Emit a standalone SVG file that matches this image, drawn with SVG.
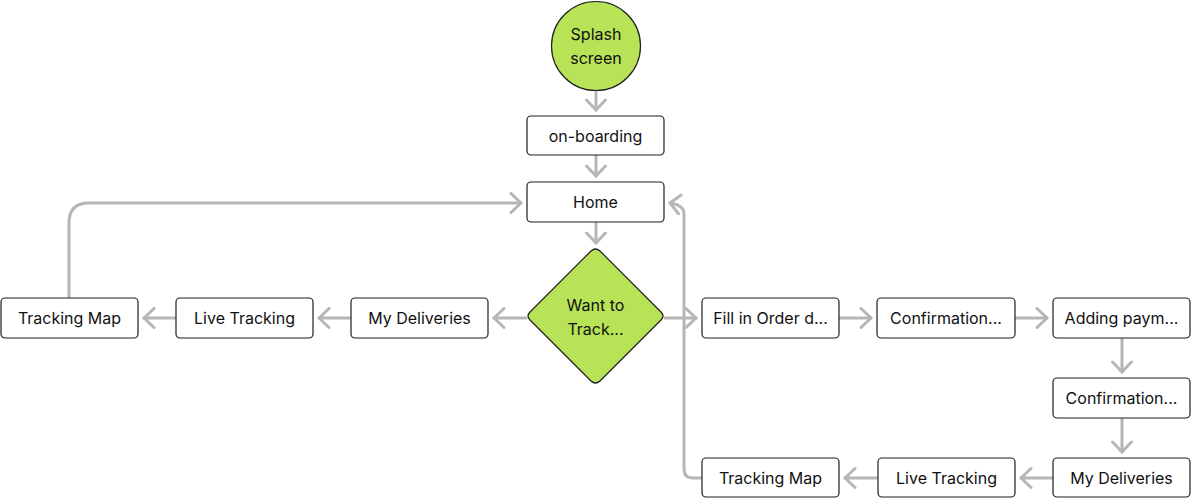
<svg xmlns="http://www.w3.org/2000/svg" width="1191" height="498" viewBox="0 0 1191 498">
<defs>
<style>
.n rect{fill:#fff;stroke:#1f1f1f;stroke-width:1.2}
.t{font-family:Inter,"Liberation Sans",sans-serif;font-size:16px;fill:#111;text-anchor:middle;dominant-baseline:central}
.c path{fill:none;stroke:#b6b6b6;stroke-width:3;stroke-linecap:round;stroke-linejoin:round;marker-end:url(#ah)}
.g{fill:#b8e356;stroke:#1f1f1f;stroke-width:1.2}
</style>
<marker id="ah" viewBox="0 0 14 22" refX="12" refY="11" markerWidth="14" markerHeight="22" markerUnits="userSpaceOnUse" orient="auto">
<path d="M2,1.5 L12,11 L2,20.5" fill="none" stroke="#b6b6b6" stroke-width="3" stroke-linecap="round" stroke-linejoin="round"/>
</marker>
</defs>
<rect width="1191" height="498" fill="#fff"/>
<g class="c" id="connectors">
<path d="M596,92 V110"/>
<path d="M596,156 V176"/>
<path d="M596,223 V243"/>
<path d="M526,318 H494"/>
<path d="M350,318 H319"/>
<path d="M175,318 H144"/>
<path d="M69,297 V223 Q69,203 89,203 H521"/>
<path d="M665,318 H696"/>
<path d="M840,318 H871"/>
<path d="M1016,318 H1047"/>
<path d="M1122,339 V372"/>
<path d="M1122,419 V452"/>
<path d="M1052,478 H1021"/>
<path d="M877,478 H845"/>
<path d="M701,478 H693 Q684,478 684,469 V214 Q684,205 670,203"/>
</g>
<g id="splash"><circle class="g" cx="596" cy="46" r="44.5"/><text class="t" x="596" y="34">Splash</text><text class="t" x="596" y="58">screen</text></g>
<g class="n" id="onboarding"><rect x="527" y="116" width="137" height="39" rx="4"/><text class="t" x="595.5" y="135.5">on-boarding</text></g>
<g class="n" id="home"><rect x="527" y="182" width="137" height="40" rx="4"/><text class="t" x="595.5" y="202">Home</text></g>
<g id="decision"><path class="g" d="M591,251 Q595.5,247 600,251 L661,312 Q665,316 661,320 L600,381 Q595.5,385 591,381 L530,320 Q526,316 530,312 Z"/><text class="t" x="595.5" y="305">Want to</text><text class="t" x="595.5" y="329">Track...</text></g>
<g class="n" id="mydel1"><rect x="351" y="298" width="137" height="40" rx="4"/><text class="t" x="419.5" y="318">My Deliveries</text></g>
<g class="n" id="live1"><rect x="176" y="298" width="137" height="40" rx="4"/><text class="t" x="244.5" y="318">Live Tracking</text></g>
<g class="n" id="map1"><rect x="1" y="298" width="137" height="40" rx="4"/><text class="t" x="69.5" y="318">Tracking Map</text></g>
<g class="n" id="fill"><rect x="702" y="298" width="137" height="40" rx="4"/><text class="t" x="770.5" y="318">Fill in Order d...</text></g>
<g class="n" id="conf1"><rect x="877" y="298" width="138" height="40" rx="4"/><text class="t" x="946" y="318">Confirmation...</text></g>
<g class="n" id="pay"><rect x="1053" y="298" width="137" height="40" rx="4"/><text class="t" x="1121.5" y="318">Adding paym...</text></g>
<g class="n" id="conf2"><rect x="1053" y="378" width="137" height="40" rx="4"/><text class="t" x="1121.5" y="398">Confirmation...</text></g>
<g class="n" id="mydel2"><rect x="1053" y="458" width="137" height="39" rx="4"/><text class="t" x="1121.5" y="478">My Deliveries</text></g>
<g class="n" id="live2"><rect x="878" y="458" width="137" height="39" rx="4"/><text class="t" x="946.5" y="478">Live Tracking</text></g>
<g class="n" id="map2"><rect x="702" y="458" width="137" height="39" rx="4"/><text class="t" x="770.5" y="478">Tracking Map</text></g>
</svg>
